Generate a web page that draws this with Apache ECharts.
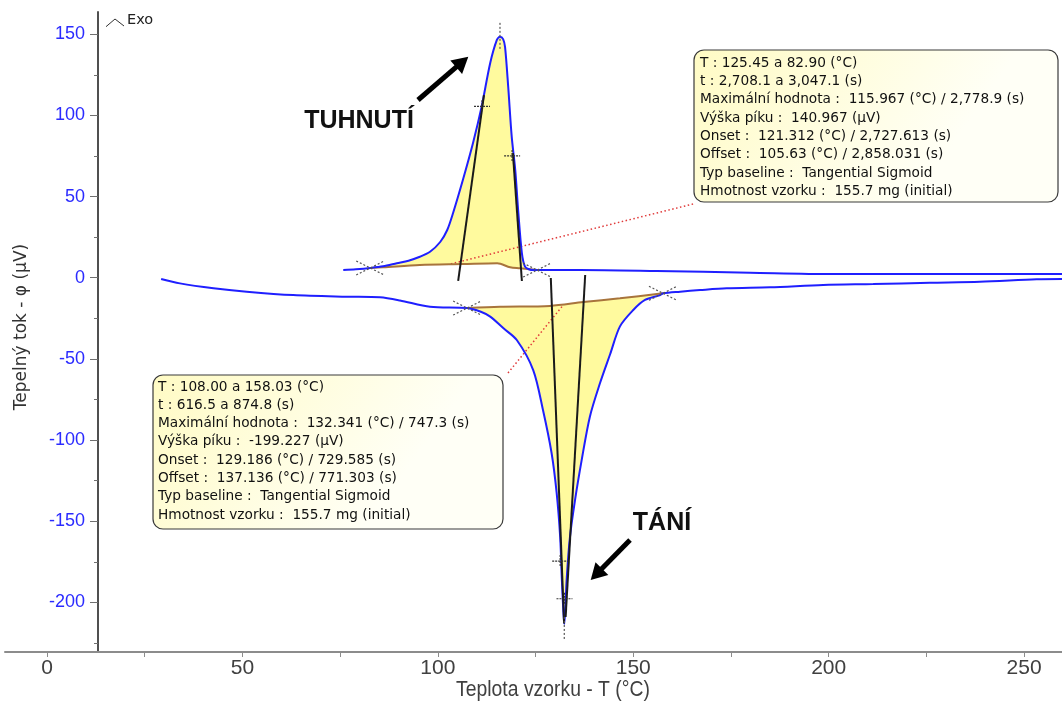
<!DOCTYPE html>
<html>
<head>
<meta charset="utf-8">
<script src="https://cdn.jsdelivr.net/npm/echarts@6/dist/echarts.min.js"></script>
<style>
html,body{margin:0;padding:0;background:#fff;}
#chart{width:1062px;height:704px;}
</style>
</head>
<body>
<div id="chart"></div>
<script>
// ---- Data (T in °C, heat flow in µV) ----
const xLabelValues = [0, 50, 100, 150, 200, 250];
const xTickValues = [0, 25, 50, 75, 100, 125, 150, 175, 200, 225, 250];
const yLabelValues = [-200, -150, -100, -50, 0, 50, 100, 150];
const yMajorTicks = [-200, -150, -100, -50, 0, 50, 100, 150];
const yMinorTicks = [-225, -175, -125, -75, -25, 25, 75, 125];

// cooling run (crystallisation peak, exo up)
const coolingCurve = [
  [75.8,4.7],[79.0,5.2],[82.7,6.0],[86.0,7.0],[89.5,8.9],[92.5,10.5],[95.4,12.9],
  [98.0,16.0],[100.6,22.0],[102.4,29.4],[103.9,39.9],[106.4,60.2],[109.0,83.0],
  [111.2,105.4],[113.4,132.3],[115.1,146.5],[115.9,148.5],[116.7,147.0],[117.2,142.0],
  [118.0,117.7],[118.9,86.9],[119.8,66.4],[120.6,39.9],[121.5,15.2],[122.3,6.8],
  [123.3,5.2],[124.4,4.7],[136.4,4.7],[156.0,4.1],[179.9,3.1],[200.8,2.3],[259.7,2.3]
];
const coolingBaseline = [
  [82.7,6.0],[86.0,6.4],[95.4,7.8],[106.4,8.4],[115.2,8.9],[118.5,6.4],[121.0,5.8],[125.4,4.7]
];
// heating run (melting peak, endo down)
const heatingCurve = [
  [29.2,-0.8],[34.0,-3.5],[42.6,-6.5],[51.1,-8.6],[63.0,-10.7],[76.7,-11.7],[85.2,-12.1],
  [90.3,-14.0],[98.0,-17.9],[107.5,-18.7],[111.0,-21.0],[113.4,-24.0],[116.8,-31.2],
  [120.2,-38.4],[124.4,-56.9],[126.9,-81.5],[129.1,-108.0],[130.4,-132.6],[131.3,-159.8],
  [131.7,-184.4],[132.1,-204.8],[132.35,-213.4],[132.6,-204.8],[133.0,-184.4],[133.8,-159.8],
  [135.1,-137.0],[136.8,-112.4],[138.9,-85.6],[141.5,-64.9],[144.1,-47.0],[146.6,-30.0],
  [150.0,-19.9],[153.0,-13.7],[156.9,-10.7],[157.7,-9.6],[162.0,-8.6],[167.1,-7.6],
  [173.9,-6.5],[185.0,-5.9],[198.6,-4.5],[211.4,-3.9],[225.9,-3.1],[238.7,-2.5],
  [253.2,-1.0],[259.7,-0.8]
];
const heatingBaseline = [
  [107.5,-18.7],[115.9,-17.9],[128.7,-17.4],[137.2,-15.0],[146.6,-12.7],[157.6,-9.6]
];
// tangents
const coolTangentLeft = [[105.2,-2.0],[111.8,112.5]];
const coolTangentRight = [[121.5,-2.0],[119.2,76.8]];
const heatTangentLeft = [[128.9,-0.2],[132.3,-213.0]];
const heatTangentRight = [[137.7,1.7],[132.7,-209.0]];
// leader lines to the info boxes
const coolLeader = [[165.3,45.4],[103.1,8.4]];
const heatLeader = [[117.95,-58.7],[132.1,-16.8]];
// markers
const limitCrosses = [[82.7,6.0],[125.4,4.7],[107.5,-18.7],[157.6,-9.6]];
const plusMarks = [[111.3,105.6],[119.0,75.0],[131.3,-174.6],[132.4,-197.8]];
const coolPeakTick = [[115.9,141.0],[115.9,158.0]];
const heatPeakTick = [[132.35,-209.0],[132.35,-223.0]];

const coolInfo = [
  'T : 125.45 a 82.90 (°C)',
  't : 2,708.1 a 3,047.1 (s)',
  'Maximální hodnota :  115.967 (°C) / 2,778.9 (s)',
  'Výška píku :  140.967 (µV)',
  'Onset :  121.312 (°C) / 2,727.613 (s)',
  'Offset :  105.63 (°C) / 2,858.031 (s)',
  'Typ baseline :  Tangential Sigmoid',
  'Hmotnost vzorku :  155.7 mg (initial)'
];
const heatInfo = [
  'T : 108.00 a 158.03 (°C)',
  't : 616.5 a 874.8 (s)',
  'Maximální hodnota :  132.341 (°C) / 747.3 (s)',
  'Výška píku :  -199.227 (µV)',
  'Onset :  129.186 (°C) / 729.585 (s)',
  'Offset :  137.136 (°C) / 771.303 (s)',
  'Typ baseline :  Tangential Sigmoid',
  'Hmotnost vzorku :  155.7 mg (initial)'
];

const X_MIN = -10.75, X_MAX = 259.7, Y_MIN = -230.6, Y_MAX = 163.7;
const SANS = "'Liberation Sans',Arial,sans-serif";
const WIDE = "'DejaVu Sans',Verdana,sans-serif";
const SMOOTH = 0.3;

const chart = echarts.init(document.getElementById('chart'), null, {renderer:'canvas'});

function fillSeries(curve, base, color) {
  return {
    type:'custom', coordinateSystem:'cartesian2d', silent:true, z:1,
    data:[[base[0][0], base[0][1]]],
    renderItem:function(params, api){
      const t0 = base[0][0], t1 = base[base.length-1][0];
      const pts = [];
      curve.forEach(p => { if (p[0] >= t0 && p[0] <= t1) pts.push(api.coord(p)); });
      for (let i = base.length-1; i >= 0; i--) pts.push(api.coord(base[i]));
      return {type:'polygon', shape:{points:pts, smooth:SMOOTH}, style:{fill:color, stroke:null}};
    }
  };
}
function lineSeries(data, color, width, type, z, smooth) {
  return {type:'line', data:data, showSymbol:false, silent:true, z:z, smooth:smooth||false,
    lineStyle:{color:color, width:width, type:type||'solid'}, animation:false};
}
function infoBox(x, y, w, h, lines, tx, ty0) {
  const children = [{
    type:'rect', shape:{x:0, y:0, width:w, height:h, r:10},
    style:{fill:new echarts.graphic.LinearGradient(0,0,0.6,1,[{offset:0,color:'#fffbc4'},{offset:1,color:'#fffff6'}]),
      stroke:'#3a3a3a', lineWidth:1.2}
  }];
  lines.forEach((t, i) => children.push({
    type:'text', x:tx, y:ty0 + i*18.3,
    style:{text:t, fontSize:13.7, fontFamily:WIDE, fill:'#111', verticalAlign:'middle', align:'left'}
  }));
  return {type:'group', x:x, y:y, z:100, children:children};
}

const option = {
  animation:false,
  backgroundColor:'#ffffff',
  grid:{left:5, right:0, top:12, bottom:52, containLabel:false},
  xAxis:[{
    type:'value', min:X_MIN, max:X_MAX,
    axisLine:{show:true, onZero:false, lineStyle:{color:'#8c8c8c', width:2}},
    axisTick:{show:true, customValues:xTickValues, length:5, lineStyle:{color:'#8c8c8c', width:1}},
    axisLabel:{customValues:xLabelValues, color:'#404040', fontSize:21, fontFamily:SANS, margin:6},
    splitLine:{show:false}
  }],
  yAxis:[{
    type:'value', position:'left', min:Y_MIN, max:Y_MAX, offset:-93,
    axisLine:{show:true, onZero:false, lineStyle:{color:'#505050', width:2}},
    axisTick:{show:true, customValues:yMajorTicks, length:8, lineStyle:{color:'#707070', width:1}},
    axisLabel:{customValues:yLabelValues, color:'#2b2bff', fontSize:18, fontFamily:SANS, margin:13},
    splitLine:{show:false}
  },{
    type:'value', position:'left', min:Y_MIN, max:Y_MAX, offset:-93,
    axisLine:{show:false, onZero:false},
    axisTick:{show:true, customValues:yMinorTicks, length:4, lineStyle:{color:'#707070', width:1}},
    axisLabel:{show:false},
    splitLine:{show:false}
  }],
  series:[
    fillSeries(coolingCurve, coolingBaseline, '#fffa9e'),
    fillSeries(heatingCurve, heatingBaseline, '#fffa9e'),
    lineSeries(coolLeader, '#e03a3a', 1.5, [1.5,2.5], 2),
    lineSeries(heatLeader, '#e03a3a', 1.5, [1.5,2.5], 2),
    lineSeries(coolingBaseline, '#a8743c', 2, 'solid', 3, SMOOTH),
    lineSeries(heatingBaseline, '#a8743c', 2, 'solid', 3, SMOOTH),
    lineSeries(coolingCurve, '#1f1fff', 2, 'solid', 4, SMOOTH),
    lineSeries(heatingCurve, '#1f1fff', 2, 'solid', 4, SMOOTH),
    lineSeries(coolTangentLeft, '#1a1a1a', 2, 'solid', 5),
    lineSeries(coolTangentRight, '#1a1a1a', 2, 'solid', 5),
    lineSeries(heatTangentLeft, '#1a1a1a', 2, 'solid', 5),
    lineSeries(heatTangentRight, '#1a1a1a', 2, 'solid', 5),
    lineSeries(coolPeakTick, '#555', 1.2, [2,2], 6),
    lineSeries(heatPeakTick, '#555', 1.2, [2,2], 6),
    {
      type:'custom', coordinateSystem:'cartesian2d', silent:true, z:6, data:limitCrosses,
      renderItem:function(params, api){
        const c = api.coord([api.value(0), api.value(1)]);
        const st = {stroke:'#555', lineWidth:1.2, lineDash:[2,2]};
        return {type:'group', children:[
          {type:'line', shape:{x1:c[0]-14, y1:c[1]-7, x2:c[0]+14, y2:c[1]+7}, style:st},
          {type:'line', shape:{x1:c[0]-14, y1:c[1]+7, x2:c[0]+14, y2:c[1]-7}, style:st}
        ]};
      }
    },
    {
      type:'custom', coordinateSystem:'cartesian2d', silent:true, z:6, data:plusMarks,
      renderItem:function(params, api){
        const c = api.coord([api.value(0), api.value(1)]);
        const st = {stroke:'#333', lineWidth:1.2, lineDash:[2,1]};
        return {type:'group', children:[
          {type:'line', shape:{x1:c[0]-8, y1:c[1], x2:c[0]+8, y2:c[1]}, style:st},
          {type:'line', shape:{x1:c[0], y1:c[1]-6, x2:c[0], y2:c[1]+6}, style:st}
        ]};
      }
    }
  ],
  graphic:[
    // Exo indicator
    {type:'polyline', z:100, shape:{points:[[106,26.7],[115,19],[124,26]]}, style:{stroke:'#333', lineWidth:1, fill:null}},
    {type:'text', z:100, x:127, y:20, style:{text:'Exo', fontSize:14.5, fontFamily:WIDE, fill:'#222', verticalAlign:'middle'}},
    // axis names
    {type:'text', z:100, x:553, y:690, scaleX:0.88, style:{text:'Teplota vzorku - T (°C)', fontSize:22, fontFamily:SANS, fill:'#404040', align:'center', verticalAlign:'middle'}},
    {type:'text', z:100, x:22, y:327, rotation:Math.PI/2, style:{text:'Tepelný tok - φ (µV)', fontSize:17, fontFamily:WIDE, fill:'#333', align:'center', verticalAlign:'middle'}},
    // annotations
    infoBox(694, 50, 364, 152, coolInfo, 6, 13.3),
    infoBox(153, 375, 350, 154, heatInfo, 5, 12),
    {type:'text', z:100, x:359, y:121, style:{text:'TUHNUTÍ', fontSize:25, fontWeight:'bold', fontFamily:SANS, fill:'#111', align:'center', verticalAlign:'middle'}},
    {type:'text', z:100, x:662, y:523, style:{text:'TÁNÍ', fontSize:25, fontWeight:'bold', fontFamily:SANS, fill:'#111', align:'center', verticalAlign:'middle'}},
    // arrows
    {type:'line', z:100, shape:{x1:418, y1:100, x2:457, y2:66.4}, style:{stroke:'#000', lineWidth:5}},
    {type:'polygon', z:100, shape:{points:[[468.3,56.7],[462.1,74.0],[450.3,60.4]]}, style:{fill:'#000'}},
    {type:'line', z:100, shape:{x1:630, y1:540, x2:601, y2:569.5}, style:{stroke:'#000', lineWidth:5}},
    {type:'polygon', z:100, shape:{points:[[590.7,580],[608.3,574.9],[595.5,562.3]]}, style:{fill:'#000'}}
  ]
};
chart.setOption(option);
</script>
</body>
</html>
